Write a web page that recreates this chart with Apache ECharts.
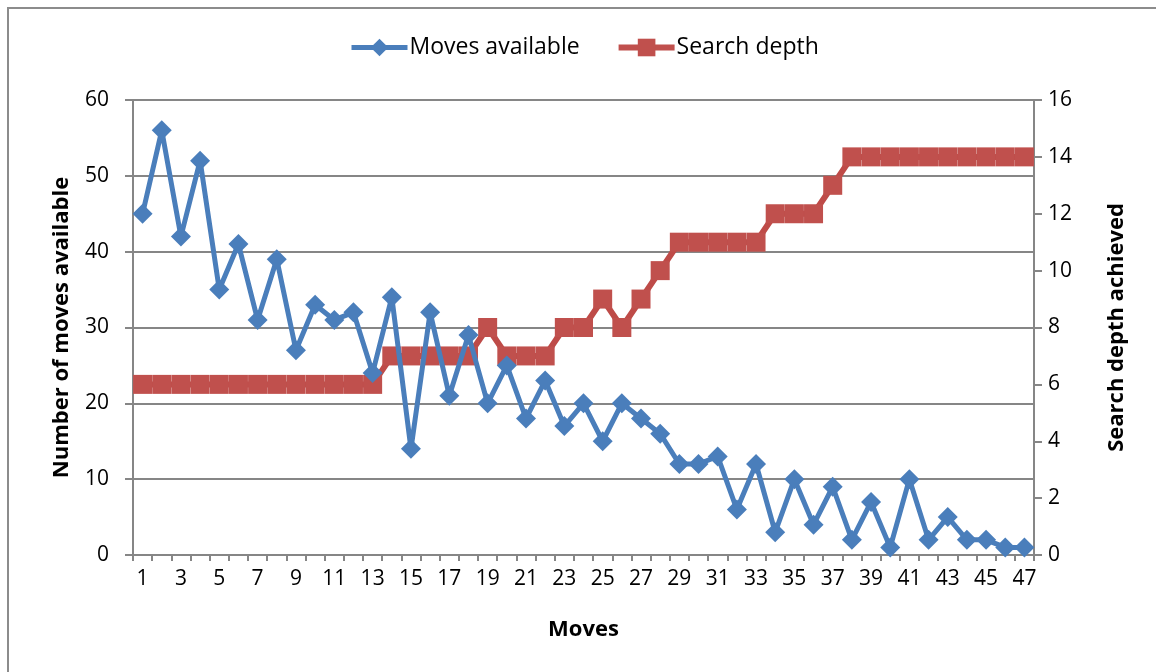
<!DOCTYPE html>
<html><head><meta charset="utf-8">
<script src="https://cdn.jsdelivr.net/npm/echarts@6/dist/echarts.min.js"></script>
<style>html,body{margin:0;padding:0;background:#fff}#c{width:1156px;height:672px}</style>
</head><body><div id="c"></div>
<script>
const moves = ['1','2','3','4','5','6','7','8','9','10','11','12','13','14','15','16','17','18','19','20','21','22','23','24','25','26','27','28','29','30','31','32','33','34','35','36','37','38','39','40','41','42','43','44','45','46','47'];
const movesAvailable = [45,56,42,52,35,41,31,39,27,33,31,32,24,34,14,32,21,29,20,25,18,23,17,20,15,20,18,16,12,12,13,6,12,3,10,4,9,2,7,1,10,2,5,2,2,1,1];
const searchDepth = [6,6,6,6,6,6,6,6,6,6,6,6,6,7,7,7,7,7,8,7,7,7,8,8,9,8,9,10,11,11,11,11,11,12,12,12,13,14,14,14,14,14,14,14,14,14,14];
const leftTicks = [0,10,20,30,40,50,60];
const rightTicks = [0,2,4,6,8,10,12,14,16];

const FONT = '"Open Sans", sans-serif';
const chart = echarts.init(document.getElementById('c'), null, {renderer:'canvas'});
const axisGrey = '#868686';
const blue = '#4a7ebb', red = '#c0504d';
chart.setOption({
  animation:false,
  backgroundColor:'#fff',
  textStyle:{fontFamily:FONT},
  graphic:[
    {type:'polyline', shape:{points:[[8,672],[8,8],[1156,8]]}, style:{stroke:'#8c8c8c', lineWidth:2, fill:null}}
  ],
  legend:{
    top:31, left:344, itemGap:36, itemWidth:56, itemHeight:22,
    textStyle:{fontSize:23, color:'#000', fontFamily:FONT, padding:[0,0,0,-3]},
    data:[
      {name:'Moves available', lineStyle:{width:5, color:blue}, itemStyle:{color:blue}},
      {name:'Search depth', lineStyle:{width:6, color:red}, itemStyle:{color:red}}
    ]
  },
  grid:{left:133, right:122, top:100, bottom:117},
  xAxis:{
    type:'category', data:moves, boundaryGap:true,
    name:'Moves', nameLocation:'middle', nameGap:64,
    nameTextStyle:{fontSize:22, fontWeight:'bold', color:'#000', fontFamily:FONT},
    axisLine:{lineStyle:{color:axisGrey, width:2}},
    axisTick:{show:true, interval:0, length:6, lineStyle:{color:axisGrey, width:2}},
    axisLabel:{interval:1, fontSize:21, color:'#000', margin:14, fontFamily:FONT}
  },
  yAxis:[
    {type:'value', min:leftTicks[0], max:leftTicks[leftTicks.length-1], interval:10,
     name:'Number of moves available', nameLocation:'middle', nameGap:60, nameRotate:90,
     nameTextStyle:{fontSize:22, fontWeight:'bold', color:'#000', fontFamily:FONT},
     axisLine:{show:true, lineStyle:{color:axisGrey, width:2}},
     axisTick:{show:true, length:8, lineStyle:{color:axisGrey, width:2}},
     axisLabel:{fontSize:21, color:'#000', margin:24, fontFamily:FONT},
     splitLine:{show:true, lineStyle:{color:axisGrey, width:2}}},
    {type:'value', min:rightTicks[0], max:rightTicks[rightTicks.length-1], interval:2, position:'right',
     name:'Search depth achieved', nameLocation:'middle', nameGap:72, nameRotate:90,
     nameTextStyle:{fontSize:22, fontWeight:'bold', color:'#000', fontFamily:FONT},
     axisLine:{show:true, lineStyle:{color:axisGrey, width:2}},
     axisTick:{show:true, length:8, lineStyle:{color:axisGrey, width:2}},
     axisLabel:{fontSize:21, color:'#000', margin:14, fontFamily:FONT},
     splitLine:{show:false}}
  ],
  series:[
    {name:'Moves available', type:'line', yAxisIndex:0, data:movesAvailable,
     symbol:'diamond', symbolSize:20, showAllSymbol:true,
     lineStyle:{color:blue, width:5}, itemStyle:{color:blue}, z:3},
    {name:'Search depth', type:'line', yAxisIndex:1, data:searchDepth,
     symbol:'rect', symbolSize:[19,19], showAllSymbol:true,
     lineStyle:{color:'#be4b48', width:6}, itemStyle:{color:red}, z:2}
  ]
});
</script></body></html>
